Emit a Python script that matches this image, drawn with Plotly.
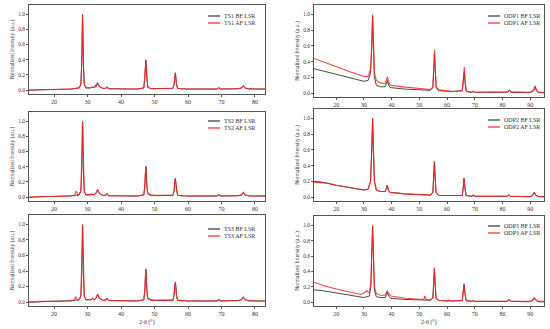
import plotly.graph_objects as go

# ---------------- data ----------------
TS1_BF = [(12.5,0.0),(16,0.005),(20,0.01),(25,0.015),(27.5,0.03),(28.0,0.08),(28.25,0.35),(28.4,0.75),(28.5,0.99),(28.6,0.75),(28.75,0.35),(29.0,0.08),(29.5,0.03),(31.0,0.03),(31.5,0.045),(32.0,0.03),(32.5,0.05),(33.0,0.1),(33.5,0.05),(34.5,0.025),(35.3,0.025),(35.8,0.045),(36.3,0.02),(40,0.015),(45,0.015),(46.8,0.03),(47.1,0.15),(47.3,0.33),(47.4,0.4),(47.5,0.33),(47.7,0.15),(48.0,0.04),(49,0.02),(55.5,0.025),(55.85,0.08),(56.05,0.18),(56.2,0.23),(56.35,0.18),(56.55,0.08),(56.9,0.025),(58.5,0.015),(58.9,0.025),(59.3,0.015),(65,0.015),(68.7,0.015),(69.2,0.035),(69.7,0.015),(75,0.02),(76.0,0.03),(76.5,0.06),(77.0,0.03),(78.3,0.015),(78.8,0.025),(79.3,0.015),(83,0.015)]
TS1_AF = [(12.5,0.0),(16,0.01),(20,0.01),(25,0.015),(27.5,0.03),(28.0,0.08),(28.25,0.35),(28.4,0.75),(28.5,1.0),(28.6,0.75),(28.75,0.35),(29.0,0.08),(29.5,0.03),(31.0,0.03),(31.5,0.035),(32.0,0.04),(32.3,0.065),(32.6,0.05),(33.0,0.09),(33.5,0.05),(34.5,0.025),(35.3,0.02),(35.8,0.035),(36.3,0.02),(40,0.015),(45,0.015),(46.8,0.03),(47.1,0.15),(47.3,0.32),(47.4,0.39),(47.5,0.32),(47.7,0.15),(48.0,0.04),(49,0.02),(55.5,0.025),(55.85,0.08),(56.05,0.17),(56.2,0.22),(56.35,0.17),(56.55,0.08),(56.9,0.025),(58.5,0.015),(58.9,0.02),(59.3,0.015),(65,0.015),(68.7,0.015),(69.2,0.03),(69.7,0.015),(75,0.02),(76.0,0.03),(76.5,0.055),(77.0,0.03),(78.3,0.015),(78.8,0.02),(79.3,0.015),(83,0.015)]

TS2_BF = [(12.5,0.0),(16,0.005),(20,0.01),(25,0.015),(26.1,0.02),(26.6,0.03),(27.1,0.02),(27.5,0.03),(28.0,0.08),(28.25,0.35),(28.4,0.75),(28.5,0.98),(28.6,0.75),(28.75,0.35),(29.0,0.08),(29.5,0.03),(30.8,0.03),(31.2,0.045),(31.6,0.03),(32.5,0.05),(33.0,0.1),(33.5,0.05),(34.5,0.025),(35.3,0.025),(35.8,0.05),(36.3,0.02),(40,0.015),(45,0.015),(46.8,0.03),(47.1,0.15),(47.3,0.33),(47.4,0.4),(47.5,0.33),(47.7,0.15),(48.0,0.05),(49,0.03),(50.8,0.02),(55.5,0.025),(55.85,0.09),(56.05,0.19),(56.2,0.24),(56.35,0.19),(56.55,0.09),(56.9,0.025),(58.5,0.015),(58.9,0.025),(59.3,0.015),(65,0.015),(68.7,0.015),(69.2,0.035),(69.7,0.015),(75,0.02),(76.0,0.03),(76.5,0.06),(77.0,0.03),(78.3,0.015),(78.8,0.025),(79.3,0.015),(83,0.015)]
TS2_AF = [(12.5,0.0),(16,0.01),(20,0.01),(25,0.015),(26.1,0.03),(26.6,0.08),(27.1,0.03),(27.5,0.04),(28.0,0.08),(28.25,0.35),(28.4,0.75),(28.5,1.0),(28.6,0.75),(28.75,0.35),(29.0,0.08),(29.5,0.03),(30.8,0.03),(31.2,0.04),(31.6,0.03),(32.5,0.05),(33.0,0.1),(33.5,0.05),(34.5,0.025),(35.3,0.02),(35.8,0.04),(36.3,0.02),(40,0.015),(45,0.015),(46.8,0.03),(47.1,0.15),(47.3,0.34),(47.4,0.41),(47.5,0.34),(47.7,0.15),(48.0,0.04),(49,0.02),(50.8,0.025),(55.5,0.025),(55.85,0.09),(56.05,0.2),(56.2,0.25),(56.35,0.2),(56.55,0.09),(56.9,0.025),(58.5,0.015),(58.9,0.02),(59.3,0.015),(65,0.015),(68.7,0.015),(69.2,0.03),(69.7,0.015),(75,0.02),(76.0,0.03),(76.5,0.065),(77.0,0.03),(78.3,0.015),(78.8,0.02),(79.3,0.015),(83,0.015)]

TS3_BF = [(12.5,0.0),(16,0.005),(20,0.01),(25,0.015),(26.0,0.02),(26.5,0.03),(27.0,0.02),(27.5,0.03),(28.0,0.08),(28.25,0.35),(28.4,0.75),(28.5,0.98),(28.6,0.75),(28.75,0.35),(29.0,0.08),(29.5,0.03),(31.0,0.03),(31.5,0.05),(32.0,0.03),(32.5,0.05),(33.0,0.1),(33.5,0.05),(34.5,0.025),(35.3,0.025),(35.8,0.05),(36.3,0.02),(40,0.015),(45,0.015),(46.8,0.03),(47.1,0.15),(47.3,0.34),(47.4,0.42),(47.5,0.34),(47.7,0.15),(48.0,0.05),(49,0.03),(50.8,0.02),(55.5,0.025),(55.85,0.09),(56.05,0.2),(56.2,0.25),(56.35,0.2),(56.55,0.09),(56.9,0.025),(58.5,0.015),(58.9,0.025),(59.3,0.015),(65,0.015),(68.7,0.015),(69.2,0.035),(69.7,0.015),(75,0.02),(76.0,0.03),(76.5,0.065),(77.0,0.03),(78.3,0.015),(78.8,0.025),(79.3,0.015),(83,0.015)]
TS3_AF = [(12.5,0.0),(16,0.01),(20,0.01),(25,0.015),(26.0,0.03),(26.5,0.07),(27.0,0.03),(27.5,0.04),(28.0,0.08),(28.25,0.35),(28.4,0.75),(28.5,1.0),(28.6,0.75),(28.75,0.35),(29.0,0.08),(29.5,0.03),(31.0,0.03),(31.5,0.045),(32.0,0.03),(32.5,0.05),(33.0,0.1),(33.5,0.05),(34.5,0.025),(35.3,0.02),(35.8,0.045),(36.3,0.02),(40,0.015),(45,0.015),(46.8,0.03),(47.1,0.15),(47.3,0.35),(47.4,0.43),(47.5,0.35),(47.7,0.15),(48.0,0.04),(49,0.02),(50.8,0.025),(55.5,0.025),(55.85,0.09),(56.05,0.21),(56.2,0.26),(56.35,0.21),(56.55,0.09),(56.9,0.025),(58.5,0.015),(58.9,0.02),(59.3,0.015),(65,0.015),(68.7,0.015),(69.2,0.03),(69.7,0.015),(75,0.02),(76.0,0.03),(76.5,0.07),(77.0,0.03),(78.3,0.015),(78.8,0.02),(79.3,0.015),(83,0.015)]

ODP1_BF = [(12,0.31),(20,0.24),(25,0.2),(30,0.15),(31.5,0.16),(32.4,0.25),(32.85,0.6),(33.15,0.98),(33.45,0.6),(33.8,0.2),(34.5,0.1),(36,0.08),(37.7,0.08),(38.1,0.12),(38.5,0.16),(38.9,0.1),(39.5,0.07),(45,0.05),(50,0.04),(54,0.035),(54.9,0.07),(55.25,0.3),(55.5,0.5),(55.75,0.3),(56.1,0.07),(57,0.03),(62,0.02),(65.5,0.03),(65.95,0.15),(66.25,0.26),(66.55,0.12),(67.0,0.02),(69.0,0.01),(69.5,0.02),(70.0,0.01),(80,0.005),(81.9,0.01),(82.5,0.03),(83.1,0.01),(90,0.005),(91.3,0.03),(91.8,0.08),(92.3,0.03),(93,0.005),(95,0.005)]
ODP1_AF = [(12,0.44),(15,0.4),(20,0.33),(25,0.27),(30,0.21),(31.5,0.21),(32.4,0.3),(32.85,0.6),(33.15,1.0),(33.45,0.6),(33.8,0.25),(34.5,0.16),(36,0.13),(37.7,0.12),(38.1,0.17),(38.5,0.21),(38.9,0.14),(39.5,0.1),(45,0.075),(50,0.055),(54,0.045),(54.9,0.08),(55.25,0.3),(55.5,0.55),(55.75,0.3),(56.1,0.08),(57,0.04),(62,0.02),(65.5,0.03),(65.95,0.18),(66.25,0.33),(66.55,0.15),(67.0,0.02),(69.0,0.01),(69.5,0.025),(70.0,0.01),(80,0.01),(81.9,0.015),(82.5,0.04),(83.1,0.015),(90,0.01),(91.3,0.04),(91.8,0.09),(92.3,0.04),(93,0.01),(95,0.01)]

ODP2_BF = [(12,0.2),(15,0.19),(20,0.15),(25,0.12),(30,0.09),(31.5,0.1),(32.4,0.2),(32.85,0.6),(33.15,1.0),(33.45,0.6),(33.8,0.2),(34.5,0.09),(36,0.07),(37.7,0.07),(38.1,0.12),(38.45,0.15),(38.9,0.08),(39.5,0.06),(45,0.04),(50,0.03),(54,0.025),(54.9,0.06),(55.2,0.25),(55.45,0.45),(55.7,0.25),(56.05,0.06),(57,0.02),(62,0.015),(65.5,0.02),(65.85,0.12),(66.15,0.24),(66.45,0.12),(66.9,0.02),(69.0,0.01),(69.5,0.025),(70.0,0.01),(80,0.005),(81.7,0.01),(82.3,0.03),(82.9,0.01),(90,0.005),(91.0,0.025),(91.5,0.06),(92.0,0.025),(93,0.005),(95,0.005)]
ODP2_AF = [(12,0.19),(15,0.18),(17,0.175),(20,0.15),(25,0.12),(30,0.09),(31.5,0.1),(32.4,0.2),(32.85,0.6),(33.15,1.0),(33.45,0.6),(33.8,0.2),(34.5,0.09),(36,0.07),(37.7,0.07),(38.1,0.12),(38.45,0.15),(38.9,0.08),(39.5,0.06),(45,0.04),(50,0.03),(54,0.025),(54.9,0.06),(55.2,0.25),(55.45,0.45),(55.7,0.25),(56.05,0.06),(57,0.02),(62,0.015),(65.5,0.02),(65.85,0.12),(66.15,0.24),(66.45,0.12),(66.9,0.02),(69.0,0.01),(69.5,0.025),(70.0,0.01),(80,0.005),(81.7,0.01),(82.3,0.03),(82.9,0.01),(90,0.005),(91.0,0.025),(91.5,0.06),(92.0,0.025),(93,0.005),(95,0.005)]

ODP3_BF = [(12,0.16),(15,0.15),(20,0.12),(25,0.09),(30,0.06),(31,0.07),(32.0,0.08),(32.5,0.2),(32.85,0.6),(33.15,0.98),(33.45,0.6),(33.8,0.15),(34.5,0.07),(36,0.06),(37.7,0.06),(38.1,0.1),(38.45,0.13),(38.9,0.08),(39.3,0.07),(39.8,0.05),(45,0.035),(50,0.03),(51.6,0.025),(52.0,0.03),(52.4,0.025),(54,0.025),(54.9,0.05),(55.2,0.25),(55.45,0.44),(55.7,0.25),(56.05,0.05),(57,0.02),(60.4,0.015),(60.8,0.02),(61.2,0.015),(65.5,0.02),(65.85,0.12),(66.15,0.23),(66.45,0.12),(66.9,0.02),(69.0,0.01),(69.5,0.02),(70.0,0.01),(80,0.005),(81.7,0.01),(82.3,0.03),(82.9,0.01),(90,0.005),(91.0,0.025),(91.5,0.05),(92.0,0.025),(93,0.005),(95,0.005)]
ODP3_AF = [(12,0.26),(15,0.22),(20,0.17),(25,0.13),(29,0.1),(30.5,0.13),(31.0,0.15),(31.5,0.13),(32.0,0.12),(32.5,0.25),(32.85,0.6),(33.15,1.0),(33.45,0.6),(33.8,0.2),(34.5,0.11),(36,0.09),(37.7,0.09),(38.1,0.12),(38.45,0.15),(38.9,0.11),(39.3,0.1),(39.8,0.08),(45,0.05),(50,0.035),(51.6,0.035),(52.0,0.08),(52.4,0.035),(54,0.03),(54.9,0.06),(55.2,0.25),(55.45,0.45),(55.7,0.25),(56.05,0.05),(57,0.025),(60.4,0.015),(60.8,0.03),(61.2,0.015),(65.5,0.02),(65.85,0.12),(66.15,0.24),(66.45,0.12),(66.9,0.02),(69.0,0.01),(69.5,0.02),(70.0,0.01),(80,0.01),(81.7,0.015),(82.3,0.035),(82.9,0.015),(90,0.01),(91.0,0.03),(91.5,0.06),(92.0,0.03),(93,0.01),(95,0.01)]

X_TICKS_LEFT = [20, 30, 40, 50, 60, 70, 80]
X_TICKS_RIGHT = [20, 30, 40, 50, 60, 70, 80, 90]
Y_TICKS = [0.0, 0.2, 0.4, 0.6, 0.8, 1.0]
Y_TITLE = "Normalized Intensity (a.u.)"
X_TITLE = "2-θ (°)"

SERIES = {
    "TS1": (TS1_BF, TS1_AF), "TS2": (TS2_BF, TS2_AF), "TS3": (TS3_BF, TS3_AF),
    "ODP1": (ODP1_BF, ODP1_AF), "ODP2": (ODP2_BF, ODP2_AF), "ODP3": (ODP3_BF, ODP3_AF),
}

# ---------------- layout geometry (pixels) ----------------
W, H = 550, 329
FONT = "Liberation Serif"
BLACK = "#333333"
RED = "rgba(255,30,30,0.85)"
panels = [
    # name, x px range, y px range (top,bottom), xrange, xticks, legend text-left px, legend first row px
    ("TS1", (29, 265), (5, 94), [12.5, 83], X_TICKS_LEFT, 222, 16),
    ("TS2", (29, 265), (112, 201), [12.5, 83], X_TICKS_LEFT, 222, 121),
    ("TS3", (29, 265), (215, 306), [12.5, 83], X_TICKS_LEFT, 222, 229),
    ("ODP1", (314, 544), (5, 97), [12, 95], X_TICKS_RIGHT, 502, 16),
    ("ODP2", (314, 544), (109, 201), [12, 95], X_TICKS_RIGHT, 502, 120),
    ("ODP3", (314, 544), (216, 306), [12, 95], X_TICKS_RIGHT, 502, 226),
]

fig = go.Figure()
layout = dict(
    width=W, height=H, margin=dict(l=0, r=0, t=0, b=0),
    paper_bgcolor="white", plot_bgcolor="white", showlegend=False,
    font=dict(family=FONT, size=6, color="#333"),
)
annotations = []
shapes = []

for i, (name, (x0, x1), (yt, yb), xr, xt, lx, ly) in enumerate(panels, start=1):
    sfx = "" if i == 1 else str(i)
    bf, af = SERIES[name]
    entries = ((bf, f"{name} BF LSR", BLACK, 0.9), (af, f"{name} AF LSR", RED, 1.1))
    for k, (data, lab, col, wd) in enumerate(entries):
        xs = [p[0] for p in data]
        ys = [p[1] for p in data]
        fig.add_trace(go.Scatter(x=xs, y=ys, mode="lines", name=lab,
                                 line=dict(color=col, width=wd),
                                 xaxis=f"x{sfx}", yaxis=f"y{sfx}"))
        # compact legend entry (line sample + label)
        ry = ly + 7 * k
        shapes.append(dict(type="line", xref="paper", yref="paper",
                           x0=(lx - 14) / W, x1=(lx - 2) / W, y0=1 - ry / H, y1=1 - ry / H,
                           line=dict(color=col, width=wd + 0.3)))
        annotations.append(dict(text=lab, xref="paper", yref="paper", x=lx / W, y=1 - ry / H,
                                xanchor="left", yanchor="middle", showarrow=False,
                                font=dict(size=6, family=FONT, color="#333")))
    bottom_row = name in ("TS3", "ODP3")
    if bottom_row:
        annotations.append(dict(text=X_TITLE, xref="paper", yref="paper",
                                x=(x0 + x1) / 2 / W, y=1 - 322 / H, xanchor="center",
                                yanchor="middle", showarrow=False,
                                font=dict(size=6, family=FONT, color="#333")))
    layout[f"xaxis{sfx}"] = dict(
        domain=[x0 / W, x1 / W], anchor=f"y{sfx}", range=xr,
        tickvals=xt, ticks="outside", ticklen=2, tickwidth=0.8, tickcolor="#555",
        showline=True, linecolor="#555", linewidth=0.8, mirror=True,
        showgrid=False, zeroline=False, tickfont=dict(size=6, family=FONT, color="#333"),
    )
    layout[f"yaxis{sfx}"] = dict(
        domain=[1 - yb / H, 1 - yt / H], anchor=f"x{sfx}", range=[-0.05, 1.12],
        tickvals=Y_TICKS, tickformat=".1f", ticks="outside", ticklen=2, tickwidth=0.8,
        tickcolor="#555", showline=True, linecolor="#555", linewidth=0.8, mirror=True,
        showgrid=False, zeroline=False, tickfont=dict(size=5.5, family=FONT, color="#333"),
        title=dict(text=Y_TITLE, font=dict(size=5.5, family=FONT), standoff=3),
    )

layout["annotations"] = annotations
layout["shapes"] = shapes
fig.update_layout(**layout)
fig.write_html("out.html", config={"displayModeBar": False},
               post_script="document.body.style.margin='0';document.body.style.overflow='hidden';")
